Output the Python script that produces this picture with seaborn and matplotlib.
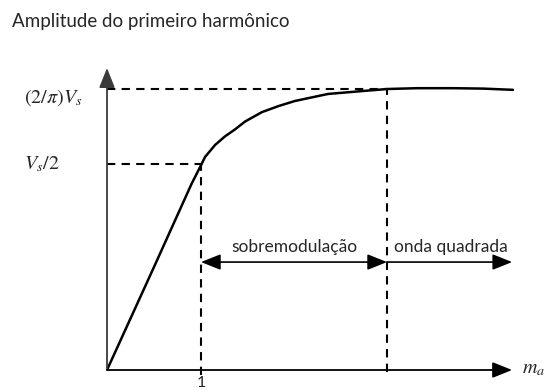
import matplotlib
matplotlib.use("Agg")
import matplotlib.pyplot as plt
import seaborn as sns
import pandas as pd

# Modulation index and first-harmonic amplitude (Vs/2 level = 0.5)
ma = [0.0, 0.5, 0.9, 0.96, 1.0, 1.043, 1.149, 1.255, 1.362, 1.468, 1.649, 1.83,
      2.0, 2.351, 2.713, 2.979, 3.3, 3.681, 4.0, 4.319]
amp = [0.0, 0.25, 0.452, 0.479, 0.497, 0.517, 0.546, 0.567, 0.584, 0.603, 0.626, 0.641,
       0.653, 0.670, 0.677, 0.682, 0.684, 0.684, 0.683, 0.680]

# Reference levels on the vertical axis
level_values = [0.5, 0.682]
level_labels = [r"$V_s/2$", r"$(2/\pi)V_s$"]

# Region boundaries on the horizontal axis
ma_linear_end = 1.0
ma_square = 2.979
ma_axis_end = 4.31
amp_axis_end = 0.733

region_labels = ["sobremodulação", "onda quadrada"]
tick_labels = ["1"]

df = pd.DataFrame({"ma": ma, "amp": amp})

sns.set_theme(style="white")
plt.rcParams["font.family"] = ["Lato", "DejaVu Sans"]
plt.rcParams["mathtext.fontset"] = "stix"

fig = plt.figure(figsize=(5.44, 3.90), dpi=100)
ax = fig.add_axes([107 / 544, 20 / 390, 437 / 544, 370 / 390])
ax.set_xlim(0, 437 / 94)
ax.set_ylim(0, 370 / 412)
for s in ax.spines.values():
    s.set_visible(False)

sns.lineplot(data=df, x="ma", y="amp", ax=ax, color="black", lw=1.8, sort=False)
ax.set_xlabel("")
ax.set_ylabel("")

# Axes with arrow heads
head = "-|>,head_length=1.0,head_width=0.4"
ax.annotate("", xy=(0, amp_axis_end), xytext=(0, 0), annotation_clip=False,
            arrowprops=dict(arrowstyle=head, color="#3a3a3a", lw=1.3, shrinkA=0, shrinkB=0,
                            mutation_scale=12))
ax.annotate("", xy=(ma_axis_end, 0), xytext=(0, 0), annotation_clip=False,
            arrowprops=dict(arrowstyle=head, color="black", lw=1.3, shrinkA=0, shrinkB=0,
                            mutation_scale=12))

# Dashed guide lines
dash = dict(color="black", lw=1.5, ls=(0, (4, 3)))
ax.plot([0, ma_square], [level_values[1]] * 2, **dash)
ax.plot([0, ma_linear_end], [level_values[0]] * 2, **dash)
ax.plot([ma_linear_end] * 2, [-0.012, level_values[0]], **dash, clip_on=False)
ax.plot([ma_square] * 2, [-0.006, level_values[1]], **dash, clip_on=False)

# Region arrows
y_arrow = 0.262
ax.annotate("", xy=(ma_linear_end, y_arrow), xytext=(ma_square, y_arrow),
            arrowprops=dict(arrowstyle="<|-|>,head_length=1.0,head_width=0.4", color="black",
                            lw=1.2, shrinkA=0, shrinkB=0, mutation_scale=12))
ax.annotate("", xy=(ma_axis_end, y_arrow), xytext=(ma_square, y_arrow),
            arrowprops=dict(arrowstyle=head, color="black",
                            lw=1.2, shrinkA=0, shrinkB=0, mutation_scale=12))
ax.text((ma_linear_end + ma_square) / 2, 0.298, region_labels[0], ha="center", va="center", fontsize=12.5)
ax.text(3.66, 0.298, region_labels[1], ha="center", va="center", fontsize=12.5)

# Tick labels
ax.set_xticks([ma_linear_end])
ax.set_xticklabels(tick_labels, fontsize=11.5)
ax.tick_params(axis="x", length=0, pad=4.5)
ax.set_yticks([])
ax.text(-83 / 94, level_values[1] - 0.02, level_labels[1], ha="left", va="center", fontsize=14.5, clip_on=False)
ax.text(-83 / 94, level_values[0], level_labels[0], ha="left", va="center", fontsize=14.5, clip_on=False)

ax.text(ma_axis_end + 0.1, 0.0, r"$m_a$", ha="left", va="center", fontsize=14.5, clip_on=False)

fig.text(12 / 544, 1 - 22 / 390, "Amplitude do primeiro harmônico", ha="left", va="center", fontsize=13.5)

fig.savefig("out.png", dpi=100, facecolor="white")
